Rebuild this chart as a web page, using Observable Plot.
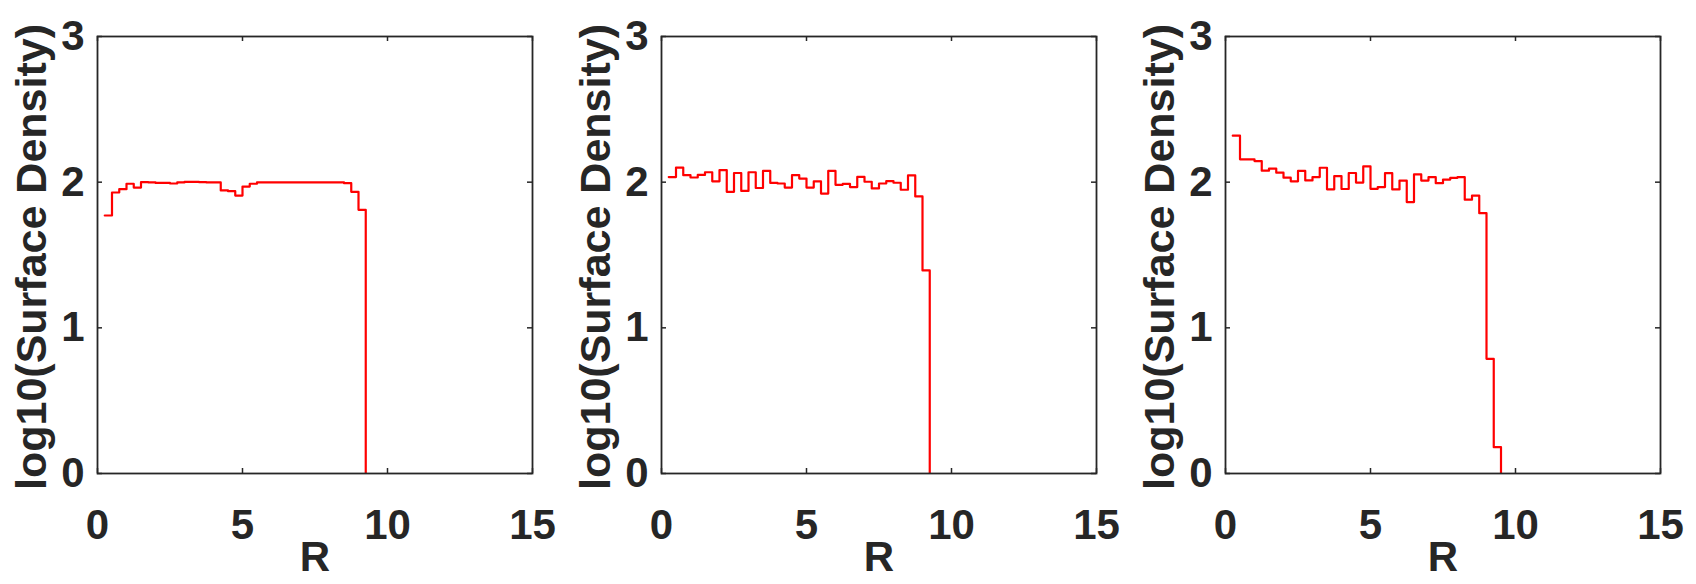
<!DOCTYPE html>
<html>
<head>
<meta charset="utf-8">
<script src="https://cdn.jsdelivr.net/npm/d3@7"></script>
<script src="https://cdn.jsdelivr.net/npm/@observablehq/plot@0.6"></script>
<style>
  html, body { margin: 0; padding: 0; background: #ffffff; }
  #row { display: flex; flex-direction: row; width: 1696px; height: 584px; overflow: hidden; }
  #row > div { flex: none; }
</style>
</head>
<body>
<div id="row"></div>
<script>
// Bin left edges in R (bin width 0.25)
const R_EDGES = [0.25, 0.5, 0.75, 1.0, 1.25, 1.5, 1.75, 2.0, 2.25, 2.5, 2.75, 3.0,
  3.25, 3.5, 3.75, 4.0, 4.25, 4.5, 4.75, 5.0, 5.25, 5.5, 5.75, 6.0, 6.25, 6.5,
  6.75, 7.0, 7.25, 7.5, 7.75, 8.0, 8.25, 8.5, 8.75, 9.0, 9.25, 9.5];

// log10(Surface Density) per bin
const panel1 = [1.771, 1.929, 1.952, 1.989, 1.963, 2.000, 1.998, 1.995, 1.995, 1.991,
  1.998, 2.002, 2.002, 2.000, 1.998, 1.998, 1.943, 1.938, 1.908, 1.970, 1.989, 1.998,
  1.998, 1.998, 1.998, 1.998, 1.998, 1.998, 1.998, 1.998, 1.998, 1.998, 1.998,
  1.993, 1.934, 1.810];
const panel2 = [2.035, 2.100, 2.048, 2.032, 2.050, 2.068, 2.006, 2.083, 1.934, 2.063,
  1.940, 2.068, 1.960, 2.077, 1.995, 1.991, 1.963, 2.048, 2.025, 1.963, 2.005, 1.922,
  2.077, 1.982, 1.988, 1.966, 2.036, 2.003, 1.957, 1.991, 2.007, 1.996, 1.948, 2.046,
  1.902, 1.394];
const panel3 = [2.319, 2.157, 2.157, 2.145, 2.079, 2.093, 2.065, 2.031, 2.006, 2.077,
  2.012, 2.035, 2.099, 1.951, 2.042, 1.953, 2.063, 1.997, 2.108, 1.954, 1.966, 2.062,
  1.950, 2.011, 1.863, 2.053, 2.011, 2.034, 1.993, 2.018, 2.030, 2.034, 1.880, 1.908,
  1.787, 0.787, 0.181];
const EMPTY = -1; // empty bin (log10 of zero), drawn down past the axis and clipped

const X_TICKS = [0, 5, 10, 15];
const Y_TICKS = [0, 1, 2, 3];
const X_LABEL = "R";
const Y_LABEL = "log10(Surface Density)";

const INK = "#262626";
const FONT = "'Liberation Sans', Arial, Helvetica, sans-serif";

function stepPoints(values) {
  const pts = values.map((v, i) => ({r: R_EDGES[i], v}));
  pts.push({r: R_EDGES[values.length], v: EMPTY});
  return pts;
}

function panel(values, width) {
  const marginLeft = 97, marginRight = width - 97 - 435, marginTop = 36, marginBottom = 111;
  const plotW = width - marginLeft - marginRight;
  const plotH = 584 - marginTop - marginBottom;
  return Plot.plot({
    width, height: 584,
    marginLeft, marginRight, marginTop, marginBottom,
    x: {domain: [0, 15]},
    y: {domain: [0, 3]},
    style: {fontFamily: FONT, fontWeight: "bold", fontSize: "42px", color: INK, background: "#ffffff", overflow: "visible"},
    marks: [
      Plot.line(stepPoints(values), {x: "r", y: "v", curve: "step-after", stroke: "#ff0000", strokeWidth: 2.2, clip: true}),
      Plot.frame({stroke: INK, strokeWidth: 1.8}),
      Plot.ruleX(X_TICKS, {stroke: INK, strokeWidth: 1.5, insetTop: plotH - 5}),
      Plot.ruleX(X_TICKS, {stroke: INK, strokeWidth: 1.5, insetBottom: plotH - 5}),
      Plot.ruleY(Y_TICKS, {stroke: INK, strokeWidth: 1.5, insetRight: plotW - 5}),
      Plot.ruleY(Y_TICKS, {stroke: INK, strokeWidth: 1.5, insetLeft: plotW - 5}),
      Plot.axisX({ticks: X_TICKS, tickFormat: d3.format("d"), tickSize: 0, tickPadding: 0, dy: 36, label: null, fontSize: 42, fontWeight: "bold", fill: INK}),
      Plot.axisY({ticks: Y_TICKS, tickFormat: d3.format("d"), tickSize: 0, tickPadding: 13, label: null, fontSize: 42, fontWeight: "bold", fill: INK}),
      Plot.text([Y_LABEL], {text: d => d, frameAnchor: "left", textAnchor: "middle", lineAnchor: "middle", rotate: -90, dx: -65, dy: 2, fontSize: 43, fontWeight: "bold", fill: INK}),
      Plot.text([X_LABEL], {text: d => d, frameAnchor: "bottom", textAnchor: "middle", lineAnchor: "middle", dy: 84, fontSize: 42, fontWeight: "bold", fill: INK})
    ]
  });
}

const row = document.getElementById("row");
[[panel1, 564], [panel2, 564], [panel3, 568]].forEach(([vals, w]) => {
  const d = document.createElement("div");
  d.appendChild(panel(vals, w));
  row.appendChild(d);
});
</script>
</body>
</html>
